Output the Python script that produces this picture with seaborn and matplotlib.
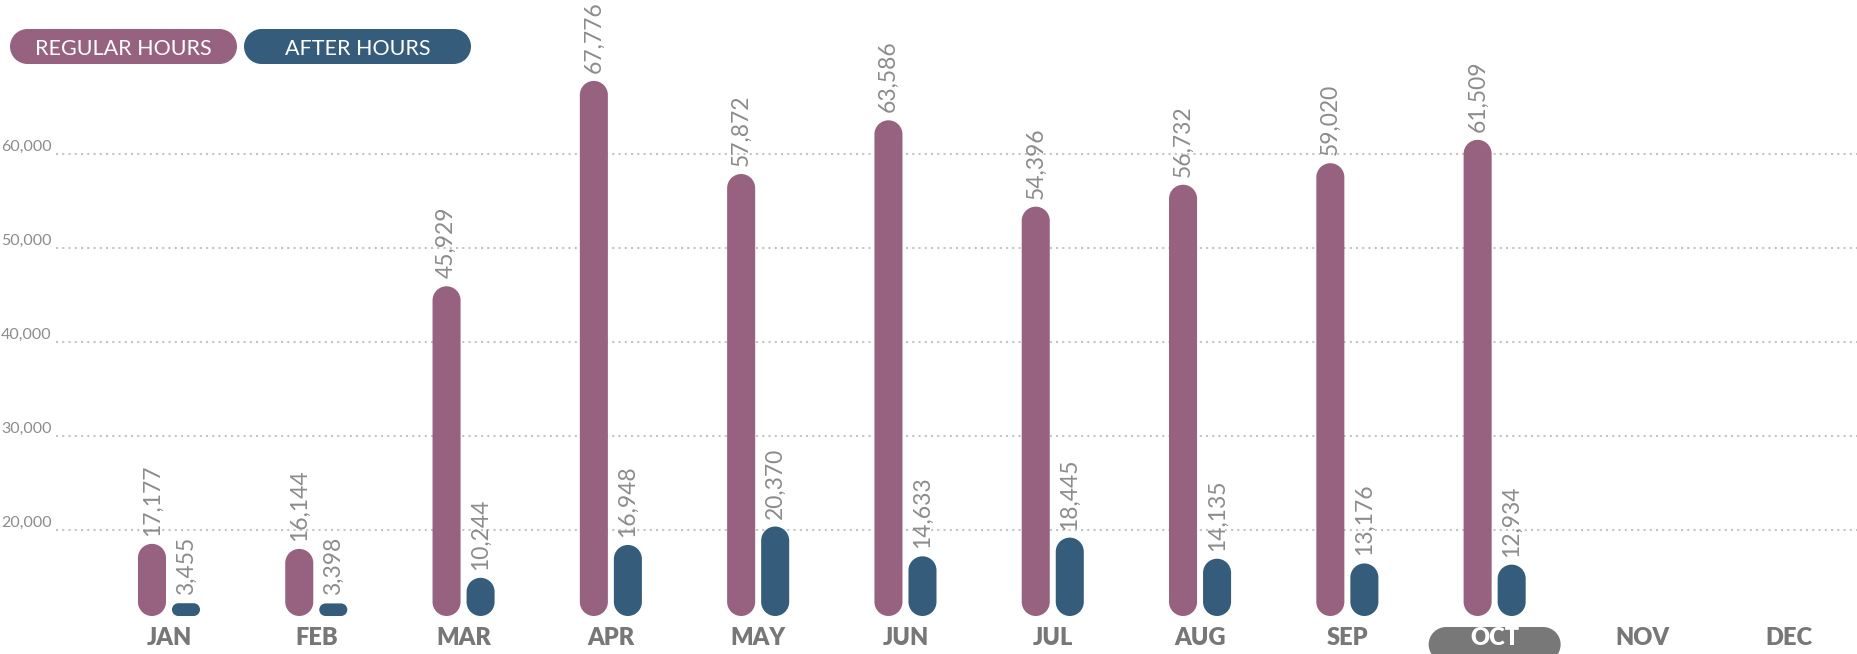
import numpy as np
import pandas as pd
import seaborn as sns
import matplotlib.pyplot as plt
from matplotlib.patches import PathPatch
from matplotlib.path import Path
from matplotlib.transforms import IdentityTransform
from matplotlib.ticker import FuncFormatter

# data
months = ['JAN', 'FEB', 'MAR', 'APR', 'MAY', 'JUN', 'JUL', 'AUG', 'SEP', 'OCT', 'NOV', 'DEC']
data_months = months[:10]
regular_hours = [17177, 16144, 45929, 67776, 57872, 63586, 54396, 56732, 59020, 61509]
after_hours = [3455, 3398, 10244, 16948, 20370, 14633, 18445, 14135, 13176, 12934]
series_names = ['REGULAR HOURS', 'AFTER HOURS']
series_colors = ['#96627f', '#355c7b']
grid_ticks = [20000, 30000, 40000, 50000, 60000]
current_month = 'OCT'

df = pd.DataFrame({
    'month': data_months * 2,
    'series': [series_names[0]] * 10 + [series_names[1]] * 10,
    'value': regular_hours + after_hours,
})


def pill(x0, y0, x1, y1):
    # rectangle with fully round ends, in pixels
    r = min(x1 - x0, y1 - y0) / 2
    verts, codes = [], []
    corners = [((x1 - r, y0 + r), 270, 360), ((x1 - r, y1 - r), 0, 90),
               ((x0 + r, y1 - r), 90, 180), ((x0 + r, y0 + r), 180, 270)]
    for (cx, cy), t1, t2 in corners:
        arc = Path.arc(t1, t2)
        c = list(arc.codes)
        if verts:
            c[0] = Path.LINETO
        verts.extend(arc.vertices * r + [cx, cy])
        codes.extend(c)
    verts.append(verts[0])
    codes.append(Path.CLOSEPOLY)
    return Path(verts, codes)


sns.set_theme(style='white')
plt.rcParams['font.family'] = ['Lato', 'DejaVu Sans']

W, H = 1857, 654
fig = plt.figure(figsize=(W / 100, H / 100), dpi=100)
ax = fig.add_axes([56 / W, 38 / H, (W - 56) / W, 616 / H])

sns.barplot(data=df, x='month', y='value', hue='series', order=months,
            hue_order=series_names, palette=series_colors, saturation=1,
            width=0.462, gap=0.176, errorbar=None, legend=False, ax=ax)

# the chart compresses the low end of the value axis
knots_v = [-100000, 0, 10000, 20000, 200000]
knots_p = [-370, 0, 37, 86, 86 + 180000 * 0.0094]
fwd = lambda v: np.interp(v, knots_v, knots_p)
inv = lambda p: np.interp(p, knots_p, knots_v)
ax.set_yscale('function', functions=(fwd, inv))
ax.set_ylim(0, inv(616))
ax.set_xlim(-0.767, 11.46)

ax.set_yticks(grid_ticks)
ax.yaxis.set_major_formatter(FuncFormatter(lambda v, _: f'{v:,.0f}'))
ax.set_axisbelow(True)
ax.grid(axis='y', color='#c4c4c4', linestyle=(0, (1, 2)), linewidth=1.5)
ax.grid(axis='x', visible=False)
sns.despine(ax=ax, left=True, bottom=True)
ax.set_xlabel('')
ax.set_ylabel('')
ax.tick_params(axis='y', length=0, pad=3, labelcolor='#8c8c8c', labelsize=11.5)
for t in ax.get_yticklabels():
    t.set_verticalalignment('bottom')
ax.tick_params(axis='x', length=0, pad=8, labelcolor='#777777', labelsize=17)
for t in ax.get_xticklabels():
    t.set_fontweight('heavy')
    if t.get_text() == current_month:
        t.set_color('white')

# swap the plain rectangles for pill shaped bars
for p in list(ax.patches):
    x, w, h = p.get_x(), p.get_width(), p.get_height()
    if not np.isfinite(h):
        continue
    color = p.get_facecolor()
    p.remove()
    x0, y0 = ax.transData.transform((x, 0))
    x1, y1 = ax.transData.transform((x + w, h))
    ax.add_patch(PathPatch(pill(x0, y0, x1, y1), transform=IdentityTransform(),
                           fc=color, ec='none'))
    ax.annotate(f'{h:,.0f}', xy=(x + w / 2, h), xytext=(0, 8), textcoords='offset pixels',
                rotation=90, ha='center', va='bottom', color='#8c8c8c', fontsize=16.5)

# highlight pill behind the current month (axis sits at zorder 0.5)
cx = ax.transData.transform((months.index(current_month), 0))[0]
ax.add_patch(PathPatch(pill(cx - 66, -8, cx + 66, 27), transform=IdentityTransform(),
                       fc='#787878', ec='none', clip_on=False, zorder=0.3))

# legend pills at the top left
for i, (name, color) in enumerate(zip(series_names, series_colors)):
    left = 10 + i * 234
    fig.add_artist(PathPatch(pill(left, 590, left + 227, 625), transform=IdentityTransform(),
                             fc=color, ec='none'))
    fig.text((left + 113.5) / W, 599 / H, name, ha='center', va='baseline',
             color='white', fontsize=15.5)

fig.savefig('out.png', dpi=100)
